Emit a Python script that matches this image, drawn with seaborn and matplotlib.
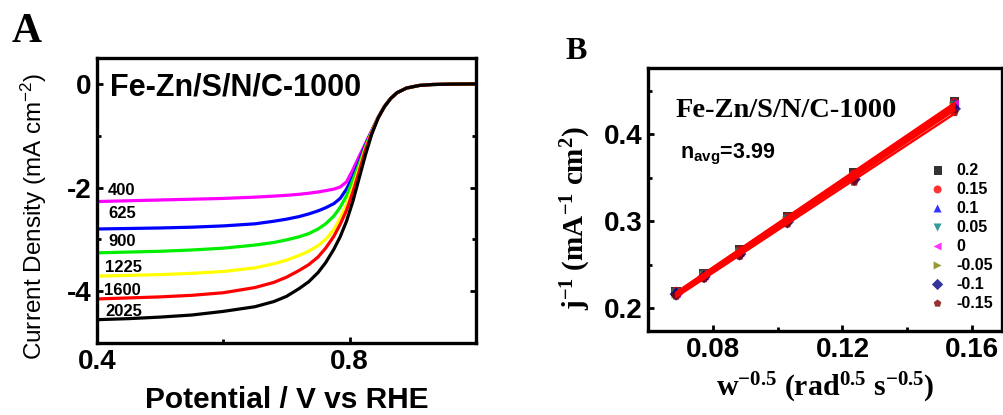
import numpy as np
import pandas as pd
import matplotlib
matplotlib.use("Agg")
import matplotlib.pyplot as plt
import seaborn as sns

# ---------------- data: panel A (LSV curves) ----------------
potential = [0.40, 0.45, 0.50, 0.55, 0.60, 0.65, 0.68, 0.70, 0.72, 0.735,
             0.75, 0.762, 0.775, 0.785, 0.795, 0.805, 0.815, 0.825, 0.835,
             0.845, 0.855, 0.865, 0.875, 0.89, 0.91, 0.93, 0.96, 1.00]
rpm_labels = ["400", "625", "900", "1225", "1600", "2025"]
j_400 = [-2.27, -2.255, -2.24, -2.225, -2.21, -2.185, -2.165, -2.15, -2.13, -2.11,
         -2.085, -2.06, -2.03, -1.99, -1.89, -1.66, -1.40, -1.15, -0.90,
         -0.64, -0.43, -0.28, -0.17, -0.08, -0.03, -0.012, -0.004, 0.00]
j_625 = [-2.80, -2.79, -2.78, -2.765, -2.74, -2.70, -2.65, -2.61, -2.56, -2.51,
         -2.45, -2.39, -2.31, -2.21, -2.03, -1.79, -1.50, -1.18, -0.91,
         -0.65, -0.44, -0.28, -0.17, -0.08, -0.03, -0.012, -0.004, 0.00]
j_900 = [-3.26, -3.245, -3.23, -3.205, -3.17, -3.11, -3.06, -3.01, -2.95, -2.89,
         -2.80, -2.70, -2.55, -2.38, -2.16, -1.86, -1.55, -1.21, -0.92,
         -0.65, -0.44, -0.28, -0.17, -0.08, -0.03, -0.012, -0.004, 0.00]
j_1225 = [-3.71, -3.695, -3.68, -3.655, -3.62, -3.55, -3.47, -3.40, -3.31, -3.23,
          -3.12, -3.00, -2.81, -2.59, -2.33, -2.00, -1.63, -1.24, -0.93,
          -0.65, -0.44, -0.28, -0.17, -0.08, -0.03, -0.012, -0.004, 0.00]
j_1600 = [-4.15, -4.13, -4.11, -4.08, -4.03, -3.93, -3.83, -3.73, -3.60, -3.49,
          -3.34, -3.17, -2.94, -2.71, -2.44, -2.09, -1.69, -1.27, -0.94,
          -0.66, -0.44, -0.28, -0.17, -0.08, -0.03, -0.012, -0.004, 0.00]
j_2025 = [-4.55, -4.53, -4.50, -4.46, -4.39, -4.30, -4.20, -4.10, -3.95, -3.82,
          -3.64, -3.45, -3.19, -2.95, -2.65, -2.27, -1.82, -1.37, -0.97,
          -0.66, -0.44, -0.28, -0.17, -0.08, -0.03, -0.012, -0.004, 0.00]
rpm_colors = ["#ff00ff", "#0000ff", "#00ee00", "#ffff00", "#ff0000", "#000000"]

# ---------------- data: panel B (Koutecky-Levich) ----------------
w_inv_sqrt = [0.0687, 0.0773, 0.0883, 0.1030, 0.1236, 0.1545]
kl_labels = ["0.2", "0.15", "0.1", "0.05", "0", "-0.05", "-0.1", "-0.15"]
kl_02 = [0.219, 0.240, 0.267, 0.305, 0.355, 0.437]
kl_015 = [0.219, 0.239, 0.266, 0.304, 0.354, 0.436]
kl_01 = [0.218, 0.238, 0.265, 0.303, 0.352, 0.435]
kl_005 = [0.217, 0.238, 0.264, 0.302, 0.351, 0.433]
kl_0 = [0.217, 0.237, 0.264, 0.302, 0.351, 0.434]
kl_m005 = [0.216, 0.237, 0.263, 0.300, 0.349, 0.431]
kl_m01 = [0.216, 0.236, 0.262, 0.299, 0.348, 0.429]
kl_m015 = [0.214, 0.234, 0.260, 0.297, 0.345, 0.425]
kl_markers = ["s", "o", "^", "v", "<", ">", "D", "p"]
kl_colors = ["#000000", "#ff0000", "#0000ff", "#008080", "#ff00ff", "#808000",
             "#000080", "#800000"]

# ---------------- style ----------------
sns.set_theme(style="ticks")
plt.rcParams["font.family"] = ["Liberation Sans", "DejaVu Sans"]
plt.rcParams.update({
    "mathtext.default": "regular",
    "text.color": "black",
    "axes.labelcolor": "black",
    "axes.linewidth": 2.4,
    "axes.edgecolor": "black",
    "xtick.direction": "in",
    "ytick.direction": "in",
    "xtick.major.size": 4,
    "ytick.major.size": 4,
    "xtick.minor.size": 3,
    "ytick.minor.size": 3,
    "xtick.major.width": 2,
    "ytick.major.width": 2,
    "xtick.minor.width": 2,
    "ytick.minor.width": 2,
    "xtick.color": "black",
    "ytick.color": "black",
    "xtick.labelcolor": "black",
    "ytick.labelcolor": "black",
})

fig = plt.figure(figsize=(10.04, 4.15), dpi=100)
axA = fig.add_axes([0.0966, 0.1735, 0.3775, 0.6867])
axB = fig.add_axes([0.6454, 0.2024, 0.3526, 0.6337])

# ---------------- panel A ----------------
series_A = [j_400, j_625, j_900, j_1225, j_1600, j_2025]
dfA = pd.concat([pd.DataFrame({"V": potential, "j": s, "rpm": lab})
                 for s, lab in zip(series_A, rpm_labels)], ignore_index=True)
sns.lineplot(data=dfA, x="V", y="j", hue="rpm", hue_order=rpm_labels,
             palette=dict(zip(rpm_labels, rpm_colors)), estimator=None,
             linewidth=2.3, legend=False, ax=axA)

axA.set_xlim(0.4, 1.0)
axA.set_ylim(-5, 0.5)
axA.set_xticks([0.4, 0.8])
axA.set_xticklabels(["0.4", "0.8"])
axA.set_xticks([0.6], minor=True)
axA.set_yticks([-4, -2, 0])
axA.set_yticklabels(["-4", "-2", "0"])
axA.set_yticks([-3, -1], minor=True)
axA.tick_params(which="both", right=True)
axA.tick_params(axis="both", which="major", labelsize=20, pad=4)
for t in axA.get_xticklabels() + axA.get_yticklabels():
    t.set_fontweight("bold")
axA.set_xlabel("Potential / V vs RHE", fontsize=21.5, fontweight="bold", labelpad=8)
axA.set_ylabel("Current Density (mA cm$^{-2}$)", fontsize=17.5, labelpad=13)
axA.yaxis.label.set_y(0.446)

axA.text(0.619, -0.06, "Fe-Zn/S/N/C-1000", fontsize=22, fontweight="bold",
         ha="center", va="center")
label_pos = [(0.4175, -2.05), (0.4175, -2.51), (0.4175, -3.05),
             (0.4130, -3.55), (0.4115, -3.98), (0.4130, -4.40)]
for lab, (x, y) in zip(rpm_labels, label_pos):
    axA.text(x, y, lab, fontsize=12, fontweight="bold", ha="left", va="center")

# ---------------- panel B ----------------
series_B = [kl_02, kl_015, kl_01, kl_005, kl_0, kl_m005, kl_m01, kl_m015]
for vals, lab, m, c in zip(series_B, kl_labels, kl_markers, kl_colors):
    sns.regplot(x=np.array(w_inv_sqrt), y=np.array(vals), ci=None, marker=m,
                color=c, label=lab, ax=axB,
                scatter_kws={"s": 46, "color": c, "edgecolor": "none", "zorder": 2},
                line_kws={"color": "red", "lw": 1.7, "zorder": 3})

axB.set_xlim(0.06, 0.1692)
axB.set_ylim(0.1736, 0.4759)
axB.set_xticks([0.08, 0.12, 0.16])
axB.set_xticklabels(["0.08", "0.12", "0.16"])
axB.set_xticks([0.10, 0.14], minor=True)
axB.set_yticks([0.2, 0.3, 0.4])
axB.set_yticklabels(["0.2", "0.3", "0.4"])
axB.set_yticks([0.25, 0.35, 0.45], minor=True)
axB.tick_params(axis="both", which="major", labelsize=20, pad=4)
for t in axB.get_xticklabels() + axB.get_yticklabels():
    t.set_fontweight("bold")
axB.set_xlabel("w$^{-0.5}$ (rad$^{0.5}$ s$^{-0.5}$)", fontsize=21.5,
               fontweight="bold", family=["Liberation Serif", "DejaVu Serif"],
               labelpad=6)
axB.set_ylabel("j$^{-1}$ (mA$^{-1}$ cm$^{2}$)", fontsize=21, fontweight="bold",
               family=["Liberation Serif", "DejaVu Serif"], labelpad=8)
axB.yaxis.label.set_y(0.43)

axB.text(0.389, 0.840, "Fe-Zn/S/N/C-1000", transform=axB.transAxes,
         fontsize=20.5, fontweight="bold",
         family=["Liberation Serif", "DejaVu Serif"], ha="center", va="center")
axB.text(0.090, 0.658, "n$_{avg}$=3.99", transform=axB.transAxes,
         fontsize=15.5, fontweight="bold", ha="left", va="baseline")

axB.legend(loc="upper left", bbox_to_anchor=(0.7955, 0.640), frameon=False,
           prop={"weight": "bold", "size": 11.5}, handlelength=1.0,
           handletextpad=0.7, labelspacing=0.25, borderpad=0,
           borderaxespad=0, markerscale=0.85)

# ---------------- panel letters ----------------
fig.text(12 / 1004, 1 - 42 / 415, "A", fontsize=30, fontweight="bold",
         family=["Liberation Serif", "DejaVu Serif"], ha="left", va="baseline")
fig.text(565 / 1004, 1 - 59 / 415, "B", fontsize=23, fontweight="bold",
         family=["Liberation Serif", "DejaVu Serif"], ha="left", va="baseline")

fig.savefig("out.png", dpi=100)
